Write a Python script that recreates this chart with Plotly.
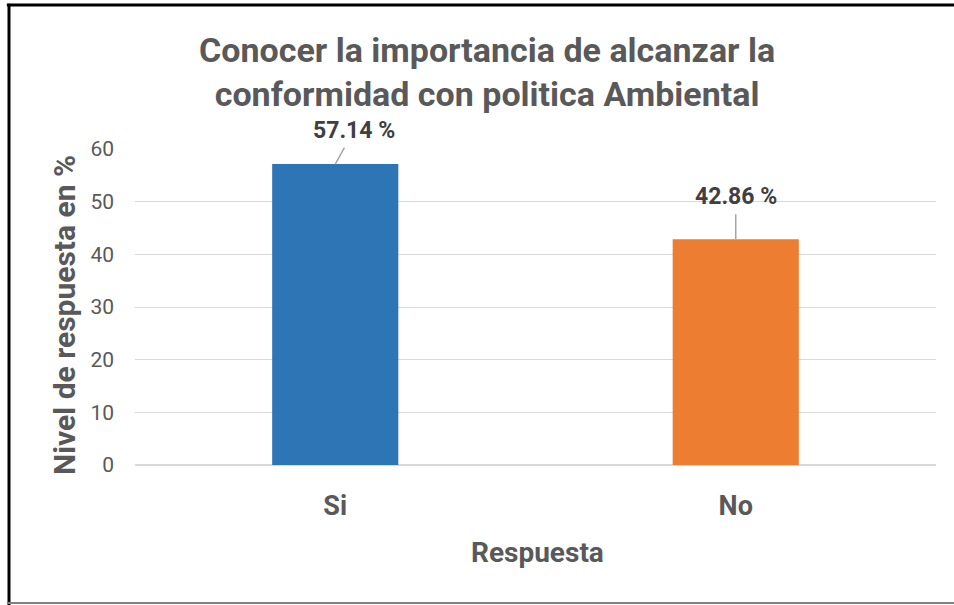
import plotly.graph_objects as go

categorias = ["Si", "No"]
valores = [57.14, 42.86]
colores = ["#2E75B6", "#ED7D31"]
ticks_y = [0, 10, 20, 30, 40, 50, 60]

titulo = "Conocer la importancia de alcanzar la<br>conformidad con politica Ambiental"
titulo_x = "Respuesta"
titulo_y = "Nivel de respuesta en %"

FONT = "Roboto, Arial, sans-serif"
GRIS = "#595959"

fig = go.Figure(go.Bar(x=categorias, y=valores, marker_color=colores,
                       marker_line_width=0, width=0.315))

# etiquetas de datos con linea guia
offsets = [(19, -34), (0, -43)]
for cat, val, (ax, ay) in zip(categorias, valores, offsets):
    fig.add_annotation(x=cat, y=val, text="<b>%.2f %%</b>" % val,
                       showarrow=True, arrowhead=0, arrowwidth=1.5,
                       arrowcolor="#a6a6a6", ax=ax, ay=ay, startstandoff=3,
                       font=dict(family=FONT, size=23, color="#404040"))

# titulos
fig.add_annotation(xref="paper", yref="paper", x=0.4395, y=1.2437,
                   xanchor="center", yanchor="middle",
                   text="<b>" + titulo + "</b>", showarrow=False,
                   font=dict(family=FONT, size=34, color=GRIS))
fig.add_annotation(xref="paper", yref="paper", x=0.5025, y=-0.278,
                   xanchor="center", yanchor="middle",
                   text="<b>" + titulo_x + "</b>", showarrow=False,
                   font=dict(family=FONT, size=28, color=GRIS))
fig.add_annotation(xref="paper", yref="paper", x=-0.0874, y=0.4747,
                   xanchor="center", yanchor="middle",
                   text="<b>" + titulo_y + "</b>", showarrow=False, textangle=-90,
                   font=dict(family=FONT, size=30, color=GRIS))

# marco
fig.add_shape(type="line", xref="paper", yref="paper", x0=-0.16, x1=1.03,
              y0=1.4557, y1=1.4557, line=dict(color="black", width=3))
fig.add_shape(type="line", xref="paper", yref="paper", x0=-0.1573, x1=-0.1573,
              y0=1.46, y1=-0.45, line=dict(color="black", width=3))
fig.add_shape(type="line", xref="paper", yref="paper", x0=-0.16, x1=1.03,
              y0=-0.4367, y1=-0.4367, line=dict(color="#808080", width=2))

fig.update_yaxes(range=[0, 60], tickvals=ticks_y, showgrid=True,
                 gridcolor="#d9d9d9", gridwidth=1, zeroline=True,
                 zerolinecolor="#d9d9d9", zerolinewidth=1.5, ticks="",
                 ticklabelstandoff=20,
                 tickfont=dict(family=FONT, size=21, color=GRIS))
fig.update_xaxes(showgrid=False, showline=False, ticks="", ticklabelstandoff=22,
                 tickfont=dict(family=FONT, size=27, color=GRIS),
                 tickprefix="<b>", ticksuffix="</b>")
fig.update_layout(width=954, height=605, plot_bgcolor="white",
                  paper_bgcolor="white", showlegend=False,
                  margin=dict(l=135, r=18, t=149, b=140))

# sin margen de pagina ni barras de desplazamiento
fig.write_html("out.html", config={"displayModeBar": False},
               post_script="document.body.style.margin='0';"
                           "document.body.style.overflow='hidden';")
